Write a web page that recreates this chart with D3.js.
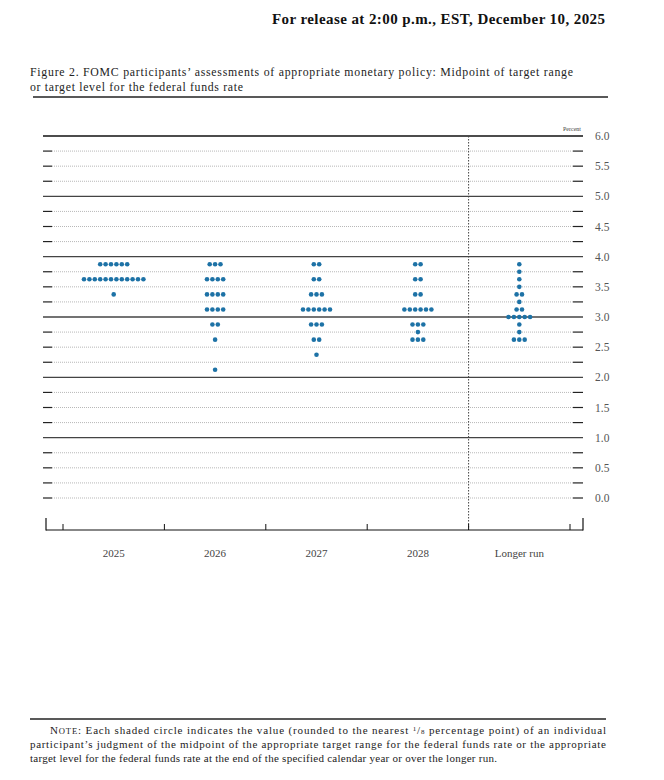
<!DOCTYPE html>
<html>
<head>
<meta charset="utf-8">
<script src="https://cdn.jsdelivr.net/npm/d3@7"></script>
<style>
  html, body { margin: 0; padding: 0; background: #fff; }
  svg { display: block; }
  text { font-family: "Liberation Serif", "DejaVu Serif", serif; }
</style>
</head>
<body>
<div id="chart"></div>
<script>
// Root data
const categories = ["2025", "2026", "2027", "2028", "Longer run"];
// [rate, number of participants]
const dots2025 = [[3.875, 6], [3.625, 12], [3.375, 1]];
const dots2026 = [[3.875, 3], [3.625, 4], [3.375, 4], [3.125, 4], [2.875, 2], [2.625, 1], [2.125, 1]];
const dots2027 = [[3.875, 2], [3.625, 2], [3.375, 3], [3.125, 6], [2.875, 3], [2.625, 2], [2.375, 1]];
const dots2028 = [[3.875, 2], [3.625, 2], [3.375, 2], [3.125, 6], [2.875, 3], [2.75, 1], [2.625, 3]];
const dotsLonger = [[3.875, 1], [3.75, 1], [3.625, 1], [3.5, 1], [3.375, 2], [3.25, 1], [3.125, 2], [3.0, 5], [2.875, 1], [2.75, 1], [2.625, 3]];
const yTickLabels = ["0.0", "0.5", "1.0", "1.5", "2.0", "2.5", "3.0", "3.5", "4.0", "4.5", "5.0", "5.5", "6.0"];
const gridValues = d3.range(0, 6.01, 0.25);

const dotSets = [dots2025, dots2026, dots2027, dots2028, dotsLonger];

// Size data
const W = 664, H = 780;
const dotColor = "#1d72a6";
const r = 2.3, step = 5.4;

const svg = d3.select("#chart").append("svg")
    .attr("width", W)
    .attr("height", H)
    .attr("viewBox", `0 0 ${W} ${H}`);
svg.append("rect").attr("width", W).attr("height", H).attr("fill", "#fff");

// Scales
const x = d3.scaleBand().domain(categories).range([63, 570]);
const y = d3.scaleLinear().domain([0, 6]).range([498, 136]);

// Header
svg.append("text")
    .attr("x", 272).attr("y", 24)
    .attr("font-size", 15)
    .attr("font-weight", "bold")
    .attr("fill", "#111")
    .attr("textLength", 333)
    .text("For release at 2:00 p.m., EST, December 10, 2025");

svg.append("text")
    .attr("x", 30).attr("y", 76)
    .attr("font-size", 11.8)
    .attr("fill", "#222")
    .attr("textLength", 543)
    .text("Figure 2. FOMC participants\u2019 assessments of appropriate monetary policy: Midpoint of target range");
svg.append("text")
    .attr("x", 30).attr("y", 91)
    .attr("font-size", 11.8)
    .attr("fill", "#222")
    .attr("textLength", 213)
    .text("or target level for the federal funds rate");
svg.append("line")
    .attr("x1", 33).attr("x2", 608).attr("y1", 97).attr("y2", 97)
    .attr("stroke", "#222").attr("stroke-width", 1.4);

// Grid lines
const solid = gridValues.filter(v => v > 0 && v % 1 === 0);
const dotted = gridValues.filter(v => !(v > 0 && v % 1 === 0));

svg.append("g").selectAll("line")
    .data(dotted)
    .join("line")
    .attr("x1", 52).attr("x2", 573)
    .attr("y1", d => y(d)).attr("y2", d => y(d))
    .attr("stroke", "#9a9a9a")
    .attr("stroke-width", 0.7)
    .attr("stroke-dasharray", "1,1");

// Left and right tick marks
[[43, 52], [573, 583]].forEach(([a, b]) => {
    svg.append("g").selectAll("line")
        .data(dotted)
        .join("line")
        .attr("x1", a).attr("x2", b)
        .attr("y1", d => y(d)).attr("y2", d => y(d))
        .attr("stroke", "#222")
        .attr("stroke-width", 1.2);
});

svg.append("g").selectAll("line")
    .data(solid)
    .join("line")
    .attr("x1", 43).attr("x2", 583)
    .attr("y1", d => y(d)).attr("y2", d => y(d))
    .attr("stroke", d => d === 6 ? "#111" : "#444")
    .attr("stroke-width", d => d === 3 ? 1.6 : 1.3);

// Y labels
svg.append("g").selectAll("text")
    .data(yTickLabels)
    .join("text")
    .attr("x", 595)
    .attr("y", d => y(+d) + 4)
    .attr("font-size", 11.5)
    .attr("fill", "#555")
    .text(d => d);

svg.append("text")
    .attr("x", 581).attr("y", 131)
    .attr("text-anchor", "end")
    .attr("font-size", 6)
    .attr("fill", "#444")
    .text("Percent");

// Vertical separator before longer run
svg.append("line")
    .attr("x1", x("Longer run")).attr("x2", x("Longer run"))
    .attr("y1", y(6)).attr("y2", 530)
    .attr("stroke", "#444")
    .attr("stroke-width", 1)
    .attr("stroke-dasharray", "1.5,1.5");

// Bottom axis
const axisY = 530;
svg.append("line")
    .attr("x1", 46).attr("x2", 583).attr("y1", axisY).attr("y2", axisY)
    .attr("stroke", "#111").attr("stroke-width", 1.2);
[46, 583].forEach(px => {
    svg.append("line")
        .attr("x1", px).attr("x2", px).attr("y1", axisY - 12).attr("y2", axisY + 0.6)
        .attr("stroke", "#111").attr("stroke-width", 1.2);
});
const edges = categories.map(c => x(c)).concat([x.range()[1]]);
svg.append("g").selectAll("line")
    .data(edges)
    .join("line")
    .attr("x1", d => d).attr("x2", d => d)
    .attr("y1", axisY - 6).attr("y2", axisY)
    .attr("stroke", "#111").attr("stroke-width", 1);

svg.append("g").selectAll("text")
    .data(categories)
    .join("text")
    .attr("x", d => x(d) + x.bandwidth() / 2)
    .attr("y", 557)
    .attr("text-anchor", "middle")
    .attr("font-size", 11)
    .attr("fill", "#444")
    .text(d => d);

// Dots
const points = [];
categories.forEach((c, i) => {
    dotSets[i].forEach(([rate, n]) => {
        for (let k = 0; k < n; k++) {
            points.push({ cat: c, rate: rate, off: (k - (n - 1) / 2) * step });
        }
    });
});
svg.append("g").selectAll("circle")
    .data(points)
    .join("circle")
    .attr("cx", d => x(d.cat) + x.bandwidth() / 2 + d.off)
    .attr("cy", d => y(d.rate))
    .attr("r", r)
    .attr("fill", dotColor);

// Note
svg.append("line")
    .attr("x1", 30).attr("x2", 606).attr("y1", 719).attr("y2", 719)
    .attr("stroke", "#222").attr("stroke-width", 1.4);
const note = svg.append("g").attr("font-size", 11).attr("fill", "#222");
const l1 = note.append("text").attr("x", 50).attr("y", 734).attr("textLength", 556);
l1.append("tspan").text("N");
l1.append("tspan").attr("font-size", 8.6).text("OTE");
l1.append("tspan").text(": Each shaded circle indicates the value (rounded to the nearest ");
l1.append("tspan").attr("font-size", 7).attr("dy", -3).text("1");
l1.append("tspan").attr("dy", 3).text("/");
l1.append("tspan").attr("font-size", 7).text("8");
l1.append("tspan").text(" percentage point) of an individual");
note.append("text").attr("x", 30).attr("y", 748).attr("textLength", 576)
    .text("participant\u2019s judgment of the midpoint of the appropriate target range for the federal funds rate or the appropriate");
note.append("text").attr("x", 30).attr("y", 762).attr("textLength", 467)
    .text("target level for the federal funds rate at the end of the specified calendar year or over the longer run.");
</script>
</body>
</html>
